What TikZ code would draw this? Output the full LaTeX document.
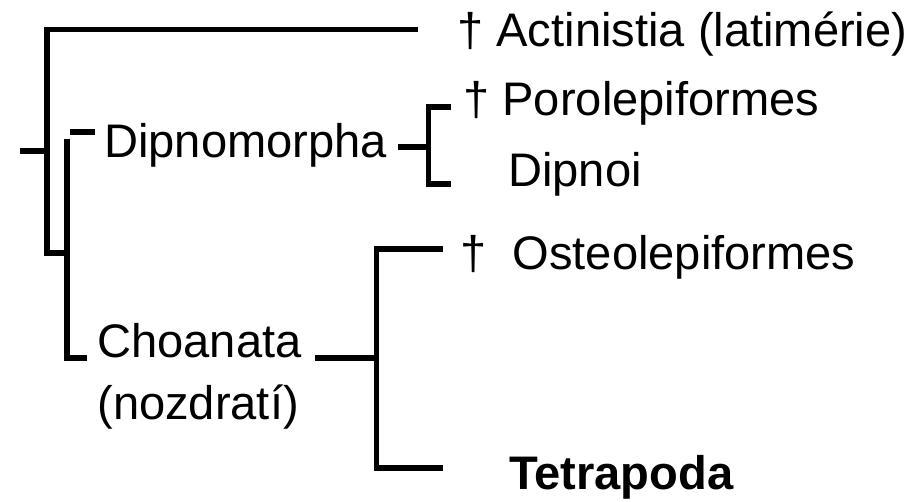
\documentclass[tikz,border=0pt]{standalone}
\usepackage{fontspec}
\setmainfont{Liberation Sans}

\begin{document}
\begin{tikzpicture}[x=0.02cm, y=-0.02cm,
    taxon/.style={font=\fontsize{26.8}{30}\selectfont, anchor=base west, inner sep=0pt},
    branch/.style={line width=3.4pt, line join=miter}]
  \useasboundingbox (0,0) rectangle (921,502);
  % taxa
  \node[taxon] (actin) at (457,47) {† Actinistia (latimérie)};
  \node[taxon] (porol) at (463,116) {† Porolepiformes};
  \node[taxon] (dipnoi) at (508,187) {Dipnoi};
  \node[taxon] (osteo) at (460,270) {†~~Osteolepiformes};
  \node[taxon, font=\fontsize{26.8}{30}\selectfont\bfseries] (tetra) at (509,490) {Tetrapoda};
  \node[taxon] (dipnom) at (104,158) {Dipnomorpha};
  \node[taxon] (choan) at (97,358) {Choanata};
  \node[taxon] (nozdr) at (97,420) {(nozdratí)};
  % branch points
  \coordinate (rootL) at (20,151);
  \coordinate (root) at (47,151);
  \coordinate (tipA) at (418,29.5);
  \coordinate (inner) at (67,253);
  \coordinate (dmL) at (70,132);
  \coordinate (dmR) at (95,132);
  \coordinate (dmOut) at (398,147);
  \coordinate (dmSplit) at (428.5,147);
  \coordinate (chOut) at (315,358);
  \coordinate (chSplit) at (376.5,358);
  % tree
  \draw[branch] (rootL) -- (root);
  \draw[branch] (tipA) -- (tipA -| root) -- (inner -| root) -- (inner);
  \draw[branch] (67,139) -- (67,358) -- (87,358);
  \draw[branch] (dmL) -- (dmR);
  \draw[branch] (dmOut) -- (dmSplit);
  \draw[branch] (451,107) -- (dmSplit |- 0,107) -- (dmSplit |- 0,184) -- (451,184);
  \draw[branch] (chOut) -- (chSplit);
  \draw[branch] (443,249) -- (chSplit |- 0,249) -- (chSplit |- 0,468) -- (443,468);
\end{tikzpicture}
\end{document}
